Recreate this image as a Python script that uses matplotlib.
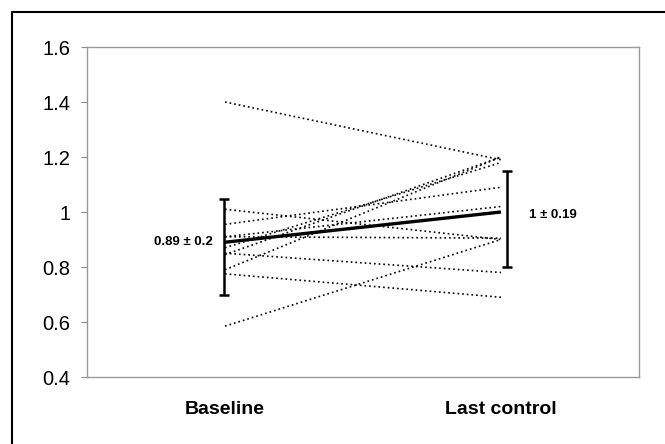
import matplotlib
matplotlib.use("Agg")
import matplotlib.pyplot as plt
from matplotlib.lines import Line2D

plt.rcParams["font.family"] = ["Liberation Sans", "DejaVu Sans"]

CATEGORIES = ["Baseline", "Last control"]

# individual subjects: baseline -> last control
BASELINE = [1.40, 1.01, 0.955, 0.91, 0.91, 0.87, 0.85, 0.845, 0.79, 0.775, 0.585]
LAST = [1.19, 0.90, 1.09, 0.905, 1.02, 1.18, 0.78, 1.20, 1.20, 0.69, 0.90]

MEANS = [0.89, 1.0]
ERR_LOW = [0.19, 0.20]
ERR_HIGH = [0.157, 0.148]
MEAN_LABELS = ["0.89 \u00b1 0.2", "1 \u00b1 0.19"]

YTICKS = [0.4, 0.6, 0.8, 1.0, 1.2, 1.4, 1.6]
YTICK_LABELS = ["0.4", "0.6", "0.8", "1", "1.2", "1.4", "1.6"]


def main():
    fig = plt.figure(figsize=(6.65, 4.44), dpi=100)
    ax = fig.add_axes([87 / 665, 1 - 377 / 444, 552 / 665, 330 / 444])

    x = [0, 1]
    for b, l in zip(BASELINE, LAST):
        ax.plot(x, [b, l], color="black", linewidth=1.2, linestyle=(0, (1, 1.8)))

    ax.plot(x, MEANS, color="black", linewidth=2.4, solid_capstyle="butt")
    ax.errorbar([-0.005, 1.02], MEANS, yerr=[ERR_LOW, ERR_HIGH], fmt="none",
                ecolor="black", elinewidth=1.8, capsize=3.5, capthick=1.8)

    ax.text(-0.045, MEANS[0], MEAN_LABELS[0], ha="right", va="center",
            fontsize=9.5, fontweight="bold")
    ax.text(1.1, MEANS[1] - 0.01, MEAN_LABELS[1], ha="left", va="center",
            fontsize=9.5, fontweight="bold")

    ax.set_xlim(-0.5, 1.5)
    ax.set_ylim(0.4, 1.6)
    ax.set_yticks(YTICKS, YTICK_LABELS)
    ax.set_xticks(x, CATEGORIES)
    ax.tick_params(axis="y", length=4, width=0.8, color="#888888", labelsize=14.5, pad=8)
    ax.tick_params(axis="x", length=0, labelsize=14, pad=17)
    for lab in ax.get_xticklabels():
        lab.set_fontweight("bold")
    for sp in ax.spines.values():
        sp.set_color("#999999")
        sp.set_linewidth(1.0)

    # outer frame (left and top edges visible)
    fx = 12 / 665
    fy = 1 - 12 / 444
    fig.add_artist(Line2D([fx, fx, 1.0], [0.0, fy, fy], transform=fig.transFigure,
                          color="black", linewidth=1.5))

    fig.savefig("out.png", dpi=100)


if __name__ == "__main__":
    main()
